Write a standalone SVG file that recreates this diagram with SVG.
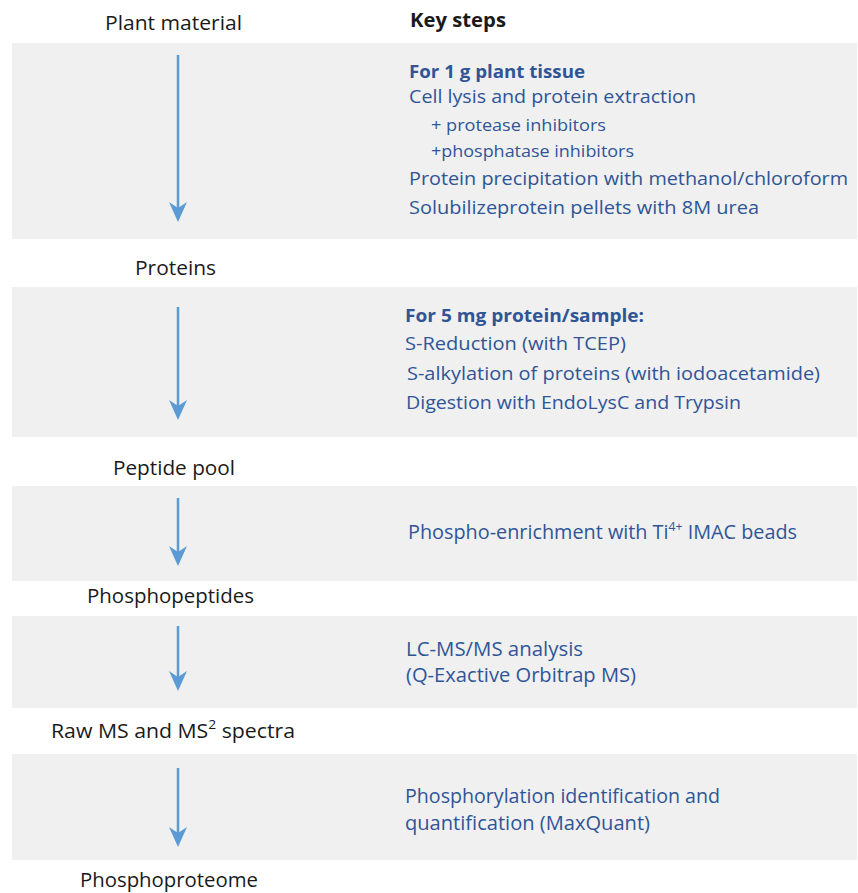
<svg xmlns="http://www.w3.org/2000/svg" width="858" height="893" viewBox="0 0 858 893">
<style>
.panel{fill:#f0f0f0}
.lbl{font-family:"Open Sans","Liberation Sans",sans-serif;font-size:20px;fill:#1a1a1a}
.key{font-family:"Open Sans","Liberation Sans",sans-serif;font-size:19px;font-weight:bold;fill:#1a1a1a}
.st{font-family:"Open Sans","Liberation Sans",sans-serif;font-size:18px;fill:#2f5597}
.st2{font-family:"Open Sans","Liberation Sans",sans-serif;font-size:19.5px;fill:#2f5597}
.stb{font-family:"Open Sans","Liberation Sans",sans-serif;font-size:18px;font-weight:bold;fill:#2f5597}
.sm{font-family:"Open Sans","Liberation Sans",sans-serif;font-size:16px;fill:#2f5597}
.arr{stroke:#5b9bd5;stroke-width:2.5;fill:none}
</style>
<defs>
<marker id="ah" viewBox="0 0 20 18" markerWidth="20" markerHeight="18" markerUnits="userSpaceOnUse" refX="8" refY="9" orient="auto">
<path d="M0,0 L20,9 L0,18 L6,9 Z" fill="#5b9bd5"/>
</marker>
</defs>
<g id="panels">
<rect class="panel" x="12" y="43" width="845" height="196"/>
<rect class="panel" x="12" y="287" width="845" height="150"/>
<rect class="panel" x="12" y="486" width="845" height="95"/>
<rect class="panel" x="12" y="616" width="845" height="92"/>
<rect class="panel" x="12" y="754" width="845" height="106"/>
</g>
<g id="connectors">
<line class="arr" x1="178" y1="55" x2="178" y2="210" marker-end="url(#ah)"/>
<line class="arr" x1="178" y1="307" x2="178" y2="408" marker-end="url(#ah)"/>
<line class="arr" x1="178" y1="498" x2="178" y2="554" marker-end="url(#ah)"/>
<line class="arr" x1="178" y1="626" x2="178" y2="679" marker-end="url(#ah)"/>
<line class="arr" x1="178" y1="768" x2="178" y2="835" marker-end="url(#ah)"/>
</g>
<g id="plant-material"><text class="lbl" x="105" y="30" textLength="137" lengthAdjust="spacingAndGlyphs">Plant material</text></g>
<g id="key-steps"><text class="key" x="410" y="27" textLength="96" lengthAdjust="spacingAndGlyphs">Key steps</text></g>
<g id="step1">
<text class="stb" x="409" y="78" textLength="176" lengthAdjust="spacingAndGlyphs">For 1 g plant tissue</text>
<text class="st" x="409" y="103" textLength="287" lengthAdjust="spacingAndGlyphs">Cell lysis and protein extraction</text>
<text class="sm" x="431" y="131" textLength="175" lengthAdjust="spacingAndGlyphs">+ protease inhibitors</text>
<text class="sm" x="431" y="157" textLength="203" lengthAdjust="spacingAndGlyphs">+phosphatase inhibitors</text>
<text class="st" x="409" y="185" textLength="439" lengthAdjust="spacingAndGlyphs">Protein precipitation with methanol/chloroform</text>
<text class="st" x="409" y="214" textLength="350" lengthAdjust="spacingAndGlyphs">Solubilizeprotein pellets with 8M urea</text>
</g>
<g id="proteins"><text class="lbl" x="135" y="275" textLength="81" lengthAdjust="spacingAndGlyphs">Proteins</text></g>
<g id="step2">
<text class="stb" x="405" y="322" textLength="239" lengthAdjust="spacingAndGlyphs">For 5 mg protein/sample:</text>
<text class="st" x="405" y="350" textLength="221" lengthAdjust="spacingAndGlyphs">S-Reduction (with TCEP)</text>
<text class="st" x="407" y="380" textLength="413" lengthAdjust="spacingAndGlyphs">S-alkylation of proteins (with iodoacetamide)</text>
<text class="st" x="406" y="409" textLength="335" lengthAdjust="spacingAndGlyphs">Digestion with EndoLysC and Trypsin</text>
</g>
<g id="peptide-pool"><text class="lbl" x="113" y="475" textLength="122" lengthAdjust="spacingAndGlyphs">Peptide pool</text></g>
<g id="step3">
<text class="st2" x="408" y="539" textLength="389" lengthAdjust="spacingAndGlyphs">Phospho-enrichment with Ti<tspan font-size="12" dy="-8">4+</tspan><tspan dy="8"> IMAC beads</tspan></text>
</g>
<g id="phosphopeptides"><text class="lbl" x="87" y="603" textLength="167" lengthAdjust="spacingAndGlyphs">Phosphopeptides</text></g>
<g id="step4">
<text class="st2" x="406" y="656" textLength="177" lengthAdjust="spacingAndGlyphs">LC-MS/MS analysis</text>
<text class="st2" x="406" y="682" textLength="230" lengthAdjust="spacingAndGlyphs">(Q-Exactive Orbitrap MS)</text>
</g>
<g id="raw-ms"><text class="lbl" x="51" y="738" textLength="244" lengthAdjust="spacingAndGlyphs">Raw MS and MS<tspan font-size="13" dy="-9">2</tspan><tspan dy="9"> spectra</tspan></text></g>
<g id="step5">
<text class="st2" x="405" y="803" textLength="315" lengthAdjust="spacingAndGlyphs">Phosphorylation identification and</text>
<text class="st2" x="405" y="830" textLength="245" lengthAdjust="spacingAndGlyphs">quantification (MaxQuant)</text>
</g>
<g id="phosphoproteome"><text class="lbl" x="80" y="887" textLength="178" lengthAdjust="spacingAndGlyphs">Phosphoproteome</text></g>
</svg>
